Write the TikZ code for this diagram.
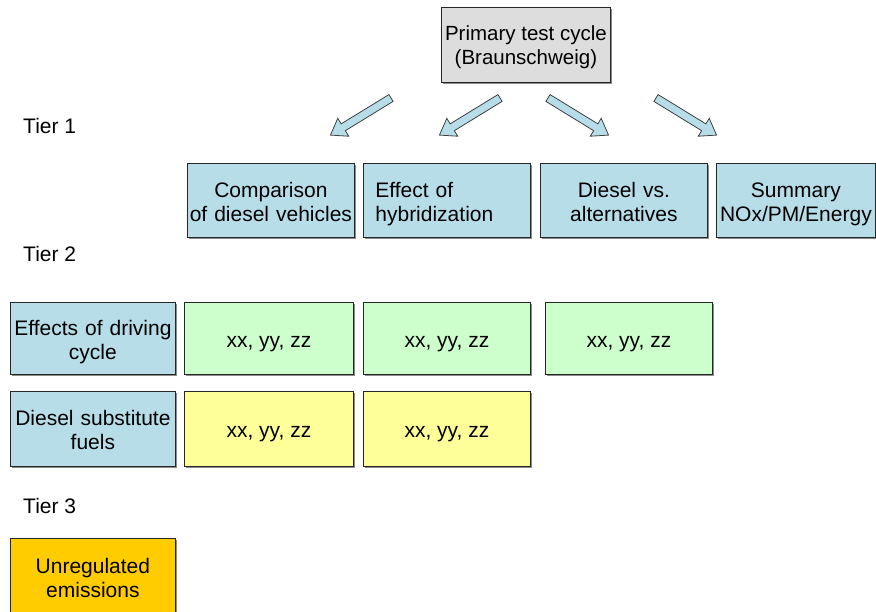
\documentclass[tikz,border=0pt]{standalone}
\usepackage{fontspec}
\setmainfont{Liberation Sans}
\usetikzlibrary{shadows}
\definecolor{cblue}{HTML}{B7DEE8}
\definecolor{cgreen}{HTML}{CCFFCC}
\definecolor{cyellow}{HTML}{FFFF99}
\definecolor{corange}{HTML}{FFCC00}
\definecolor{cgray}{HTML}{DDDDDD}
\definecolor{arrfill}{HTML}{B7DEE8}
\newcommand\blockarrow[4]{% name, tail coordinate, angle, length
  \coordinate (#1) at #2;
  \begin{scope}[shift={(#1)}, rotate=#3]
    \draw[barrow] (0,-4) -- (#4-15,-4) -- (#4-15,-10.5) -- (#4,0) -- (#4-15,10.5) -- (#4-15,4) -- (0,4) -- cycle;
  \end{scope}}
\begin{document}
\begin{tikzpicture}[x=1pt,y=-1pt,
  box/.style={draw=black!85, line width=0.8pt, inner sep=0pt, align=center,
    font=\fontsize{21}{24}\selectfont, anchor=north west,
    drop shadow={shadow xshift=1.5pt, shadow yshift=-1.5pt, fill=black!45, opacity=1}},
  one/.style={text height=22.5pt, text depth=4.5pt},
  two/.style={text width=#1, text height=20pt, text depth=26pt},
  tier/.style={font=\fontsize{21}{24}\selectfont, anchor=base west, inner sep=0pt},
  barrow/.style={draw=black!75, line width=0.8pt, fill=arrfill, line join=miter}]
\useasboundingbox (0,0) rectangle (876,611);
\clip (0,0) rectangle (876,611);

% top box
\node[box, fill=cgray, minimum width=169pt, minimum height=75pt, font=\fontsize{20.5}{24}\selectfont, text height=44pt, text depth=5pt] (primary) at (441,7) {Primary test cycle\\(Braunschweig)};

% arrows
\blockarrow{a1}{(391,98)}{211.5}{71}
\blockarrow{a2}{(500,98)}{211.5}{71}
\blockarrow{a3}{(548,98)}{-31.5}{71}
\blockarrow{a4}{(656,98)}{-31.5}{71}

% tier labels
\node[tier] (t1) at (23,133) {Tier 1};
\node[tier] (t2) at (23,261) {Tier 2};
\node[tier] (t3) at (23,513) {Tier 3};

% row 1
\node[box, two=167pt, fill=cblue, minimum width=167pt, minimum height=74pt] (comp) at (187,163) {Comparison\\of diesel vehicles};
\node[box, two=143pt, fill=cblue, minimum width=167pt, minimum height=74pt, align=left] (hyb) at (363,163) {Effect of\\hybridization};
\node[box, two=167pt, fill=cblue, minimum width=167pt, minimum height=74pt] (alt) at (540,163) {Diesel vs.\\alternatives};
\node[box, two=159pt, fill=cblue, minimum width=159pt, minimum height=74pt] (summ) at (716,163) {Summary\\NOx/PM/Energy};

% row 2
\node[box, two=165pt, fill=cblue, minimum width=165pt, minimum height=72pt] (drive) at (10,302) {Effects of driving\\cycle};
\node[box, one, fill=cgreen, minimum width=169pt, minimum height=72pt] (g1) at (184,302) {xx, yy, zz};
\node[box, one, fill=cgreen, minimum width=167pt, minimum height=72pt] (g2) at (363,302) {xx, yy, zz};
\node[box, one, fill=cgreen, minimum width=167pt, minimum height=72pt] (g3) at (545,302) {xx, yy, zz};

% row 3
\node[box, two=165pt, fill=cblue, minimum width=165pt, minimum height=75pt] (fuel) at (10,391) {Diesel substitute\\fuels};
\node[box, one, fill=cyellow, minimum width=169pt, minimum height=75pt] (y1) at (184,391) {xx, yy, zz};
\node[box, one, fill=cyellow, minimum width=167pt, minimum height=75pt] (y2) at (363,391) {xx, yy, zz};

% tier 3
\node[box, two=165pt, fill=corange, minimum width=165pt, minimum height=76pt] (unreg) at (10,538) {Unregulated\\emissions};
\end{tikzpicture}
\end{document}
